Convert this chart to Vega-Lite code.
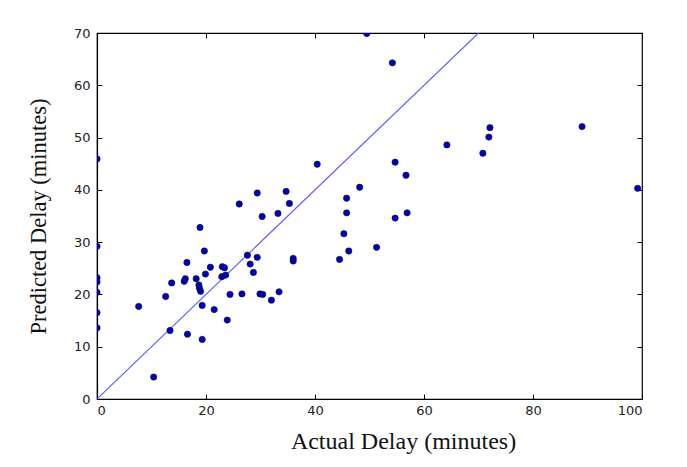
{
  "$schema": "https://vega.github.io/schema/vega-lite/v6.json",
  "autosize": {"type": "none"},
  "width": 545,
  "height": 366,
  "padding": {"left": 97, "top": 33, "right": 45, "bottom": 68},
  "background": "white",
  "config": {
    "view": {"stroke": "black", "strokeWidth": 1.2},
    "axis": {
      "domainColor": "black",
      "domainWidth": 1.2,
      "ticks": false,
      "grid": true,
      "gridColor": "black",
      "gridWidth": 1,
      "gridOpacity": 1,
      "labelFont": "DejaVu Sans",
      "labelFontSize": 13,
      "labelColor": "#222",
      "titleFont": "Liberation Serif",
      "titleFontWeight": "normal",
      "titleColor": "#111"
    }
  },
  "datasets": {
    "pts": [
      {"actual": 0, "predicted": 45.9},
      {"actual": 0, "predicted": 29.2},
      {"actual": 0, "predicted": 23.2},
      {"actual": 0, "predicted": 22.4},
      {"actual": 0, "predicted": 20.4},
      {"actual": 0, "predicted": 16.5},
      {"actual": 0, "predicted": 13.6},
      {"actual": 7.65, "predicted": 17.7},
      {"actual": 12.6, "predicted": 19.6},
      {"actual": 13.7, "predicted": 22.2},
      {"actual": 13.4, "predicted": 13.1},
      {"actual": 10.4, "predicted": 4.2},
      {"actual": 16.2, "predicted": 23.0},
      {"actual": 16.0, "predicted": 22.5},
      {"actual": 16.5, "predicted": 26.1},
      {"actual": 16.6, "predicted": 12.4},
      {"actual": 18.2, "predicted": 23.0},
      {"actual": 18.7, "predicted": 21.8},
      {"actual": 18.8, "predicted": 21.2},
      {"actual": 19.0, "predicted": 20.6},
      {"actual": 18.9, "predicted": 32.8},
      {"actual": 19.3, "predicted": 17.9},
      {"actual": 19.3, "predicted": 11.4},
      {"actual": 19.7, "predicted": 28.3},
      {"actual": 19.9, "predicted": 23.9},
      {"actual": 20.8, "predicted": 25.2},
      {"actual": 21.5, "predicted": 17.1},
      {"actual": 23.0, "predicted": 25.3},
      {"actual": 23.4, "predicted": 25.1},
      {"actual": 22.9, "predicted": 23.4},
      {"actual": 23.6, "predicted": 23.7},
      {"actual": 23.9, "predicted": 15.1},
      {"actual": 24.4, "predicted": 20.0},
      {"actual": 26.1, "predicted": 37.3},
      {"actual": 26.6, "predicted": 20.1},
      {"actual": 27.6, "predicted": 27.5},
      {"actual": 28.1, "predicted": 25.8},
      {"actual": 28.7, "predicted": 24.2},
      {"actual": 29.4, "predicted": 39.4},
      {"actual": 29.4, "predicted": 27.1},
      {"actual": 29.9, "predicted": 20.1},
      {"actual": 30.4, "predicted": 20.0},
      {"actual": 30.3, "predicted": 34.9},
      {"actual": 32.0, "predicted": 18.9},
      {"actual": 33.2, "predicted": 35.5},
      {"actual": 33.4, "predicted": 20.5},
      {"actual": 34.7, "predicted": 39.7},
      {"actual": 35.3, "predicted": 37.4},
      {"actual": 36.0, "predicted": 26.9},
      {"actual": 36.0, "predicted": 26.4},
      {"actual": 40.4, "predicted": 44.9},
      {"actual": 44.5, "predicted": 26.7},
      {"actual": 45.3, "predicted": 31.6},
      {"actual": 45.8, "predicted": 38.4},
      {"actual": 45.8, "predicted": 35.6},
      {"actual": 46.2, "predicted": 28.3},
      {"actual": 48.2, "predicted": 40.5},
      {"actual": 49.5, "predicted": 69.9},
      {"actual": 51.3, "predicted": 29.0},
      {"actual": 54.2, "predicted": 64.3},
      {"actual": 54.7, "predicted": 45.3},
      {"actual": 54.7, "predicted": 34.6},
      {"actual": 56.7, "predicted": 42.8},
      {"actual": 56.9, "predicted": 35.6},
      {"actual": 64.2, "predicted": 48.6},
      {"actual": 70.8, "predicted": 47.0},
      {"actual": 71.9, "predicted": 50.1},
      {"actual": 72.1, "predicted": 51.9},
      {"actual": 89.0, "predicted": 52.1},
      {"actual": 99.2, "predicted": 40.3}
    ],
    "diag": [
      {"actual": 0, "predicted": 0},
      {"actual": 70, "predicted": 70}
    ]
  },
  "layer": [
    {
      "data": {"name": "diag"},
      "mark": {"type": "line", "color": "#5b5bff", "strokeWidth": 1.1, "clip": true},
      "encoding": {
        "x": {
          "field": "actual", "type": "quantitative",
          "scale": {"domain": [0, 100], "nice": false, "zero": false},
          "axis": {"title": "Actual Delay (minutes)", "titleFontSize": 24, "values": [0, 20, 40, 60, 80, 100], "gridDash": [5, 356, 5], "labelPadding": 5, "titleX": 306, "titleY": 49, "titleBaseline": "alphabetic"}
        },
        "y": {
          "field": "predicted", "type": "quantitative",
          "scale": {"domain": [0, 70], "nice": false, "zero": false},
          "axis": {"title": "Predicted Delay (minutes)", "titleFontSize": 22.5, "values": [0, 10, 20, 30, 40, 50, 60, 70], "gridDash": [5, 535, 5], "labelPadding": 7, "titleX": -47, "titleY": 183, "titleBaseline": "bottom"}
        }
      }
    },
    {
      "data": {"name": "pts"},
      "mark": {"type": "point", "shape": "circle", "filled": true, "fill": "#0000c0", "stroke": "#111", "strokeWidth": 0.6, "size": 40, "opacity": 1, "clip": true},
      "encoding": {
        "x": {"field": "actual", "type": "quantitative"},
        "y": {"field": "predicted", "type": "quantitative"}
      }
    }
  ]
}
